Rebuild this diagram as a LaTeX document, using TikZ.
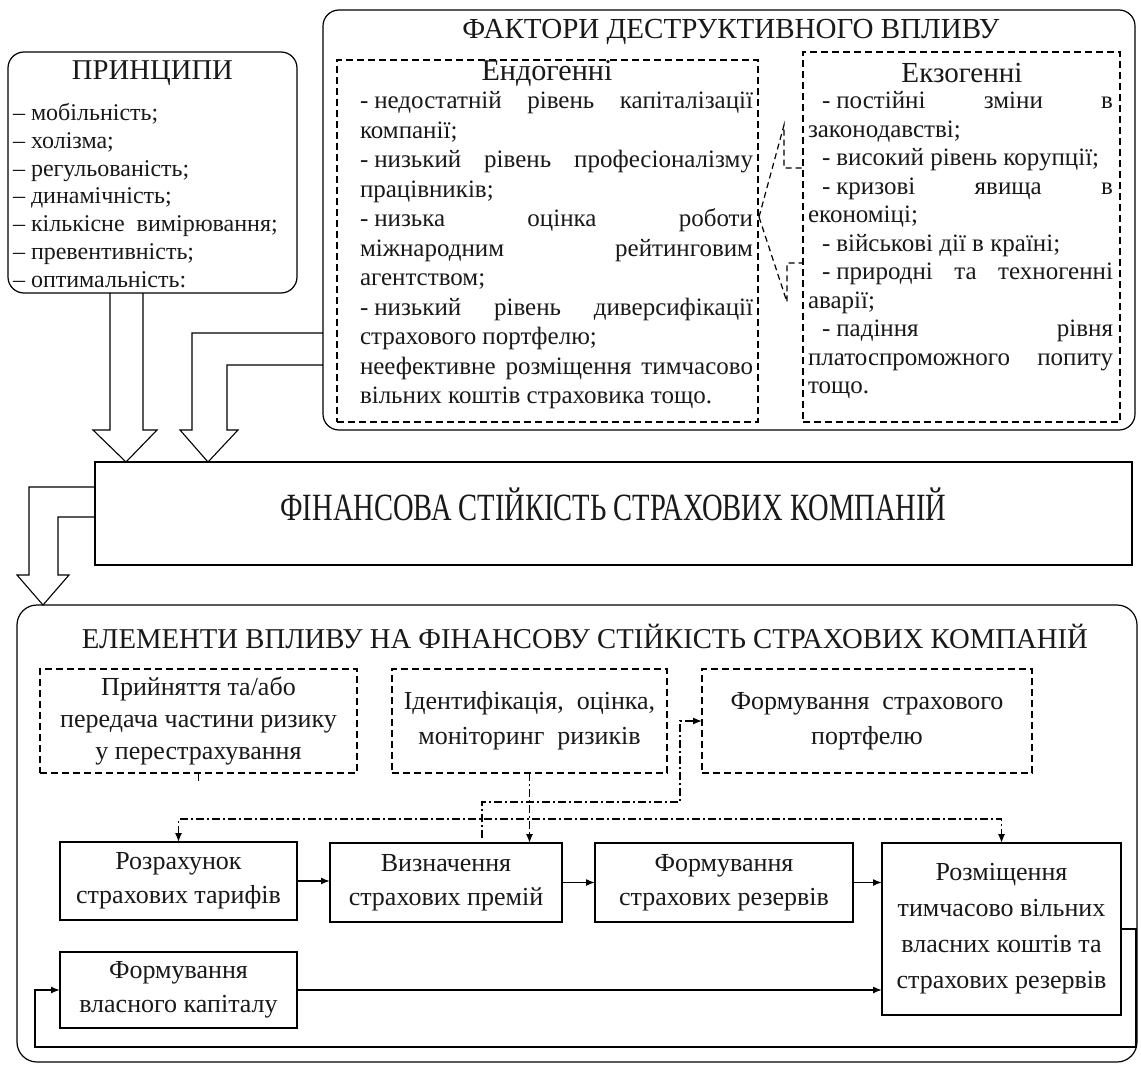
\documentclass[tikz,border=0pt]{standalone}
\usepackage{fontspec}
\setmainfont{Liberation Serif}
\usetikzlibrary{arrows.meta,calc}
\newcommand{\jline}[2]{\makebox[#1][s]{\strut #2}}
\newcommand{\lline}[1]{\strut #1}
\newcommand{\hy}{-\hspace{6pt}}
\begin{document}
\begin{tikzpicture}[x=1pt,y=-1pt,
  every node/.style={inner sep=0pt, outer sep=0pt, text=black!90},
  roundbox/.style={draw, line width=1.2pt, rounded corners=16pt},
  dbox/.style={draw, line width=1.3pt, dash pattern=on 7pt off 4pt},
  flowbox/.style={draw, line width=1.4pt, align=center, font=\fontsize{26}{34}\selectfont},
  hollow/.style={line width=1.1pt},
  arr/.style={line width=1.5pt, -{Latex[length=9pt,width=7pt]}},
  dd/.style={line width=1.3pt, dash pattern=on 8pt off 3pt on 2pt off 3pt},
  ddarr/.style={dd, -{Latex[length=9pt,width=7pt]}},
  dashc/.style={line width=1.2pt, dash pattern=on 6pt off 4pt},
  ptxt/.style={anchor=west, font=\fontsize{24}{27.8}\selectfont},
  etxt/.style={anchor=west, font=\fontsize{25}{29}\selectfont},
  btxt/.style={align=center},
]
\fill[white] (0,0) rectangle (1141,1068);
\useasboundingbox (0,0) rectangle (1141,1068);

% ---------------- PRINCIPLES ----------------
\node[roundbox, minimum width=289pt, minimum height=241pt] (princ) at (152.5,172.5) {};
\node (ptitle) at (152.5,73) {\resizebox{161pt}{!}{ПРИНЦИПИ}};
\node[ptxt] (p1) at (13,115) {\lline{– мобільність;}};
\node[ptxt] (p2) at (13,142.8) {\lline{– холізма;}};
\node[ptxt] (p3) at (13,170.6) {\lline{– регульованість;}};
\node[ptxt] (p4) at (13,198.4) {\lline{– динамічність;}};
\node[ptxt] (p5) at (13,226.2) {\lline{– кількісне\ \ вимірювання;}};
\node[ptxt] (p6) at (13,254) {\lline{– превентивність;}};
\node[ptxt] (p7) at (13,281.8) {\lline{– оптимальність:}};

% ---------------- FACTORS ----------------
\node[roundbox, minimum width=812pt, minimum height=420pt] (fact) at (729,220) {};
\node (ftitle) at (731,32) {\resizebox{537pt}{!}{ФАКТОРИ ДЕСТРУКТИВНОГО ВПЛИВУ}};

\node[dbox, minimum width=421pt, minimum height=362pt] (endo) at (547.5,241) {};
\node (entitle) at (547,73) {\resizebox{131pt}{!}{Ендогенні}};
\node[etxt] (e0) at (360,103) {\jline{393pt}{\hy недостатній рівень капіталізації}};
\node[etxt] (e1) at (360,132.5) {\lline{компанії;}};
\node[etxt] (e2) at (360,162) {\jline{393pt}{\hy низький рівень професіоналізму}};
\node[etxt] (e3) at (360,191.5) {\lline{працівників;}};
\node[etxt] (e4) at (360,221) {\jline{393pt}{\hy низька оцінка роботи}};
\node[etxt] (e5) at (360,250.5) {\jline{393pt}{міжнародним рейтинговим}};
\node[etxt] (e6) at (360,280) {\lline{агентством;}};
\node[etxt] (e7) at (360,309.5) {\jline{393pt}{\hy низький рівень диверсифікації}};
\node[etxt] (e8) at (360,339) {\lline{страхового портфелю;}};
\node[etxt] (e9) at (360,368.5) {\jline{393pt}{неефективне розміщення тимчасово}};
\node[etxt] (e10) at (360,398) {\lline{вільних коштів страховика тощо.}};

\node[dbox, minimum width=317pt, minimum height=370pt] (exo) at (961.5,237) {};
\node (extitle) at (962,73) {\resizebox{121pt}{!}{Екзогенні}};
\node[etxt] (x0) at (822,103) {\jline{291pt}{\hy постійні зміни в}};
\node[etxt] (x1) at (808,131.5) {\lline{законодавстві;}};
\node[etxt] (x2) at (822,160) {\lline{\hy високий рівень корупції;}};
\node[etxt] (x3) at (822,188.5) {\jline{291pt}{\hy кризові явища в}};
\node[etxt] (x4) at (808,217) {\lline{економіці;}};
\node[etxt] (x5) at (822,245.5) {\lline{\hy військові\ дії в країні;}};
\node[etxt] (x6) at (822,274) {\jline{291pt}{\hy природні та техногенні}};
\node[etxt] (x7) at (808,302.5) {\lline{аварії;}};
\node[etxt] (x8) at (822,331) {\jline{291pt}{\hy падіння рівня}};
\node[etxt] (x9) at (808,359.5) {\jline{305pt}{платоспроможного попиту}};
\node[etxt] (x10) at (808,388) {\lline{тощо.}};

\coordinate (apex) at (759,217);
\draw[dashc] (apex) -- (784,125) -- (784,168) -- (exo.west |- 0,168);
\draw[dashc] (apex) -- (787,302) -- (787,263) -- (exo.west |- 0,263);

% ---------------- MIDDLE ----------------
\node[draw, line width=1.4pt, minimum width=1037pt, minimum height=103pt] (mid) at (613.5,513.5) {};
\node (midtxt) at (613.5,504) {\resizebox{666pt}{!}{\scalebox{0.74}[1]{ФІНАНСОВА СТІЙКІСТЬ СТРАХОВИХ КОМПАНІЙ}}};

% hollow arrows
\draw[hollow] (110,293) -- (110,430) -- (93,430) -- (126,462) -- (157,430) -- (143,430) -- (143,293);
\draw[hollow] (323,333) -- (192,333) -- (192,430) -- (180,430) -- (208,462) -- (238,430) -- (227,430) -- (227,365) -- (323,365);
\draw[hollow] (95,487) -- (29,487) -- (29,575) -- (17,575) -- (43,605) -- (69,575) -- (58,575) -- (58,517) -- (95,517);

% ---------------- ELEMENTS ----------------
\node[roundbox, rounded corners=20pt, minimum width=1120pt, minimum height=457pt] (elem) at (577,833.5) {};
\node (eltitle) at (585,636) {\resizebox{1006pt}{!}{ЕЛЕМЕНТИ ВПЛИВУ НА ФІНАНСОВУ СТІЙКІСТЬ СТРАХОВИХ КОМПАНІЙ}};

\node[dbox, minimum width=317pt, minimum height=104pt] (b1) at (198.5,721) {};
\node[btxt, font=\fontsize{26}{32}\selectfont] (b1t) at (b1) {Прийняття та/або\\передача частини ризику\\у перестрахування};
\node[dbox, minimum width=275pt, minimum height=104pt] (b2) at (529.5,721) {};
\node[btxt, font=\fontsize{26}{35}\selectfont] (b2t) at (b2) {Ідентифікація,\ \ оцінка,\\моніторинг\ \ ризиків};
\node[dbox, minimum width=330pt, minimum height=104pt] (b3) at (867,721) {};
\node[btxt, font=\fontsize{26}{35}\selectfont] (b3t) at (b3) {Формування\ \ страхового\\портфелю};

\node[flowbox, minimum width=237pt, minimum height=78pt] (r1) at (178.5,881) {Розрахунок\\страхових тарифів};
\node[flowbox, minimum width=232pt, minimum height=79pt] (r2) at (446,882.5) {Визначення\\страхових премій};
\node[flowbox, minimum width=258pt, minimum height=79pt] (r3) at (724,882.5) {Формування\\страхових резервів};
\node[flowbox, minimum width=239pt, minimum height=172pt, font=\fontsize{26}{36}\selectfont] (r4) at (1001.5,929) {Розміщення\\тимчасово вільних\\власних коштів та\\страхових резервів};
\node[flowbox, minimum width=237pt, minimum height=76pt] (r5) at (178.5,990) {Формування\\власного капіталу};

% dash-dot connectors
\draw[dd] (b1.south) -- ++(0,10);
\draw[ddarr] (b2.south) -- (b2.south |- r2.north);
\coordinate (u1) at (482,838);
\draw[ddarr] (u1) -- (482,802) -- (680,802) -- (680,721) -- (b3.west);
\draw[dd, {Latex[length=9pt,width=7pt]}-{Latex[length=9pt,width=7pt]}] (r1.north) -- (r1.north |- 0,819) -- (r4.north |- 0,819) -- (r4.north);

% solid flow arrows
\draw[arr] (r1.east) -- (r1.east -| r2.west);
\draw[arr] (r2.east) -- (r3.west);
\draw[arr] (r3.east) -- (r3.east -| r4.west);
\draw[arr] (r5.east) -- (r5.east -| r4.west);
\draw[arr] (r4.east) -- (1136,929) -- (1136,1047) -- (35,1047) -- (35,990) -- (r5.west);
\end{tikzpicture}
\end{document}
